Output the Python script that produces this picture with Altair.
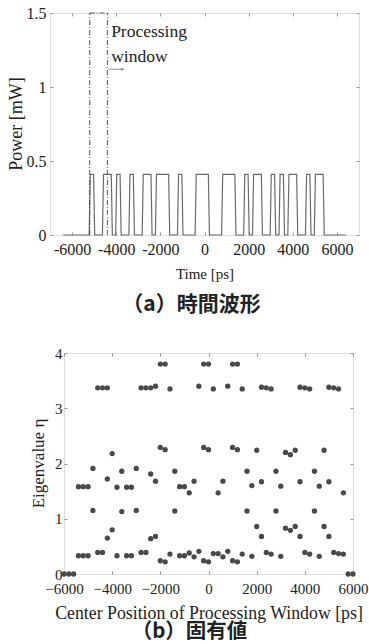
import altair as alt
import pandas as pd

# ---------------- (a) time waveform ----------------
pulse_start = [-5200, -4600, -4000, -3400, -2800, -2200, -1200, -400, 800, 1800, 2200, 3000, 3400, 3800, 4600, 5000]
pulse_end = [-5000, -4200, -3800, -3200, -2400, -1600, -1000, 200, 1400, 2000, 2600, 3200, 3600, 4200, 4800, 5400]
pulse_level = 0.41          # mW
edge_half = 25              # ps, half of rise / fall time
trace_start, trace_end = -6400, 6400

window_edges = [-5200, -4400]
window_top = 1.5
arrow_from, arrow_to, arrow_level = -4360, -3700, 1.12
label_t = -4230
label_lines = ["Processing", "window"]
label_levels = [1.338, 1.168]

time_ticks = [-6000, -4000, -2000, 0, 2000, 4000, 6000]
power_ticks = [0, 0.5, 1, 1.5]

# ---------------- (b) eigenvalues ----------------
window_centers = [-6000, -5800, -5600, -5400, -5200, -5000, -4800, -4600, -4400, -4200,
                  -4000, -3800, -3600, -3400, -3200, -3000, -2800, -2600, -2400, -2200,
                  -2000, -1800, -1600, -1400, -1200, -1000, -800, -600, -400, -200,
                  0, 200, 400, 600, 800, 1000, 1200, 1400, 1600, 1800,
                  2000, 2200, 2400, 2600, 2800, 3000, 3200, 3400, 3600, 3800,
                  4000, 4200, 4400, 4600, 4800, 5000, 5200, 5400, 5600, 5800, 6000]
eigenvalues = [[0], [0], [0], [1.58, 0.33], [1.58, 0.33], [1.58, 0.33], [1.91, 1.15], [3.37, 0.39], [3.37, 0.39], [3.37, 1.72, 0.65],
               [2.18, 0.80], [1.57, 0.33], [1.86, 1.13], [1.57, 0.33], [1.57, 0.33], [1.91, 1.15], [3.37, 0.39], [3.37, 0.39], [3.37, 1.81, 0.64], [3.40, 1.68, 0.68],
               [3.80, 2.29, 0.24], [3.80, 2.25, 0.22], [3.35, 0.36], [1.86, 1.14], [1.58, 0.33], [1.58, 0.33], [1.47, 0.38], [1.68, 0.31], [3.40, 0.41], [3.80, 2.29, 0.24],
               [3.80, 2.25, 0.22], [3.35, 0.37], [1.47, 0.37], [1.68, 0.31], [3.40, 0.41], [3.80, 2.29, 0.24], [3.80, 2.25, 0.22], [3.35, 0.36], [1.86, 1.14], [1.60, 0.32],
               [2.24, 0.86], [3.38, 1.67, 0.68], [3.37, 0.39], [3.35, 0.36], [1.86, 1.14], [1.59, 0.32], [2.20, 0.83], [2.16, 0.79], [2.24, 0.86], [3.38, 1.67, 0.68],
               [3.37, 0.39], [3.35, 0.36], [1.86, 1.14], [1.59, 0.32], [2.24, 0.86], [3.38, 1.67, 0.68], [3.37, 0.39], [3.35, 0.37], [1.47, 0.36], [0], [0]]
center_ticks = [-6000, -4000, -2000, 0, 2000, 4000, 6000]
eta_ticks = [0, 1, 2, 3, 4]

SERIF = "Liberation Serif"
CJK = "Noto Sans CJK JP"
TXT = "#222222"
TICK = "#999999"

# ---- tables ----
t_pts, p_pts = [trace_start], [0.0]
for s, e in zip(pulse_start, pulse_end):
    t_pts += [s - edge_half, s + edge_half, e - edge_half, e + edge_half]
    p_pts += [0.0, pulse_level, pulse_level, 0.0]
t_pts.append(trace_end)
p_pts.append(0.0)
wave = pd.DataFrame({"t": t_pts, "p": p_pts})
win = pd.DataFrame({"t": window_edges, "p0": [0.0] * len(window_edges), "p1": [window_top] * len(window_edges)})
win_top = pd.DataFrame({"t": [window_edges[0]], "t2": [window_edges[1]], "p": [window_top]})
arrow = pd.DataFrame({"t": [arrow_from], "t2": [arrow_to], "p": [arrow_level]})
labels = pd.DataFrame({"t": [label_t] * len(label_lines), "p": label_levels, "s": label_lines})
one = pd.DataFrame({"k": [0]})

eig = pd.DataFrame([(c, v) for c, vals in zip(window_centers, eigenvalues) for v in vals],
                   columns=["c", "eta"])

# ---- (a) chart ----
W_A, H_A = 309, 222
xs_a = alt.Scale(domain=[-7000, 7000], nice=False, zero=False)
ys_a = alt.Scale(domain=[0, 1.5], nice=False)

xa_bottom = alt.Axis(values=time_ticks, title="Time [ps]",
                     labelExpr="datum.value < 0 ? '-' + format(-datum.value, 'd') : format(datum.value, 'd')",
                     tickSize=3, offset=-3, domain=False, grid=False, labelFont=SERIF, labelFontSize=16,
                     titleFont=SERIF, titleFontSize=15, titleFontWeight="normal", labelPadding=6, titlePadding=9,
                     labelFlush=False, labelOverlap=False, labelColor=TXT, titleColor=TXT, tickColor=TICK)
xa_top = alt.Axis(values=time_ticks, labels=False, title=None, orient="top", tickSize=3, offset=-3,
                  domain=False, grid=False, tickColor=TICK)
ya_left = alt.Axis(values=power_ticks, format="~g", title=None, tickSize=3, offset=-3,
                   domain=False, grid=False, labelFont=SERIF, labelFontSize=16, labelPadding=4,
                   labelColor=TXT, tickColor=TICK)
ya_right = alt.Axis(values=power_ticks, labels=False, title=None, orient="right", tickSize=3, offset=-3,
                    domain=False, grid=False, tickColor=TICK)

wave_line = alt.Chart(wave).mark_line(color="#6a6a6a", strokeWidth=1.2).encode(
    x=alt.X("t:Q", scale=xs_a, axis=xa_bottom),
    y=alt.Y("p:Q", scale=ys_a, axis=ya_left),
)
mirror_a = alt.Chart(wave).mark_line(opacity=0).encode(
    x=alt.X("t:Q", scale=xs_a, axis=xa_top),
    y=alt.Y("p:Q", scale=ys_a, axis=ya_right),
)
win_lines = alt.Chart(win).mark_rule(color="#444444", strokeWidth=0.9, strokeDash=[5, 2, 1, 2]).encode(
    x=alt.X("t:Q", scale=xs_a, axis=None),
    y=alt.Y("p0:Q", scale=ys_a, axis=None), y2="p1:Q",
)
win_cap = alt.Chart(win_top).mark_rule(color="#444444", strokeWidth=0.9, strokeDash=[5, 2, 1, 2]).encode(
    x=alt.X("t:Q", scale=xs_a, axis=None), x2="t2:Q", y=alt.Y("p:Q", scale=ys_a, axis=None)
)
arrow_line = alt.Chart(arrow).mark_rule(color="#777777", strokeWidth=0.8).encode(
    x=alt.X("t:Q", scale=xs_a, axis=None), x2="t2:Q", y=alt.Y("p:Q", scale=ys_a, axis=None)
)
arrow_head = alt.Chart(arrow).mark_point(shape="triangle-right", filled=True, size=10, color="#777777", opacity=1).encode(
    x=alt.X("t2:Q", scale=xs_a, axis=None), y=alt.Y("p:Q", scale=ys_a, axis=None)
)
win_text = alt.Chart(labels).mark_text(align="left", baseline="alphabetic", font=SERIF, fontSize=17.5, color=TXT).encode(
    x=alt.X("t:Q", scale=xs_a, axis=None), y=alt.Y("p:Q", scale=ys_a, axis=None), text="s:N"
)
ytitle_a = alt.Chart(one).mark_text(angle=270, align="center", baseline="middle", font=SERIF, fontSize=18,
                                    color=TXT, text="Power [mW]").encode(
    x=alt.value(-33.5), y=alt.value(H_A / 2)
)
spacer_a = alt.Chart(one).mark_rule(color="white", strokeWidth=1).encode(
    x=alt.value(-48.5), x2=alt.value(-47.5), y=alt.value(H_A / 2)
)

top = alt.layer(wave_line, mirror_a, win_lines, win_cap, arrow_line, arrow_head, win_text, ytitle_a, spacer_a).resolve_axis(
    x="independent", y="independent"
).properties(
    width=W_A, height=H_A,
    title=alt.TitleParams("（a）時間波形", orient="bottom", anchor="middle", frame="group", dx=-13, offset=13,
                          font=CJK, fontSize=21, fontWeight="bold", color=TXT),
)

# ---- (b) chart ----
W_B, H_B = 289, 221
xs_b = alt.Scale(domain=[-6000, 6000], nice=False, zero=False)
ys_b = alt.Scale(domain=[0, 4], nice=False)

xb_bottom = alt.Axis(values=center_ticks, format="d", title="Center Position of Processing Window [ps]",
                     tickSize=3, offset=-3, domain=False, grid=False, labelFont=SERIF, labelFontSize=15,
                     titleFont=SERIF, titleFontSize=17.8, titleFontWeight="normal", labelPadding=7, titlePadding=8,
                     labelFlush=False, labelOverlap=False, labelColor=TXT, titleColor=TXT, tickColor=TICK)
xb_top = alt.Axis(values=center_ticks, labels=False, title=None, orient="top", tickSize=3, offset=-3,
                  domain=False, grid=False, tickColor=TICK)
yb_left = alt.Axis(values=eta_ticks, format="d", title=None, tickSize=3, offset=-3,
                   domain=False, grid=False, labelFont=SERIF, labelFontSize=15, labelPadding=2,
                   labelColor=TXT, tickColor=TICK)
yb_right = alt.Axis(values=eta_ticks, labels=False, title=None, orient="right", tickSize=3, offset=-3,
                    domain=False, grid=False, tickColor=TICK)

dots = alt.Chart(eig).mark_circle(size=28, color="#4a4a4a", opacity=1).encode(
    x=alt.X("c:Q", scale=xs_b, axis=xb_bottom),
    y=alt.Y("eta:Q", scale=ys_b, axis=yb_left),
)
mirror_b = alt.Chart(eig).mark_point(opacity=0).encode(
    x=alt.X("c:Q", scale=xs_b, axis=xb_top),
    y=alt.Y("eta:Q", scale=ys_b, axis=yb_right),
)
ytitle_b = alt.Chart(one).mark_text(angle=270, align="center", baseline="middle", font=SERIF, fontSize=17,
                                    color=TXT, text="Eigenvalue η").encode(
    x=alt.value(-24.8), y=alt.value(H_B / 2)
)

bottom = alt.layer(dots, mirror_b, ytitle_b).resolve_axis(x="independent", y="independent").properties(
    width=W_B, height=H_B,
    title=alt.TitleParams("（b）固有値", orient="bottom", anchor="middle", frame="group", dx=-19, offset=0,
                          font=CJK, fontSize=20.5, fontWeight="bold", color=TXT),
)

# an empty, invisible cell that shifts panel (b) to the right of panel (a)'s plot origin
shift_cell = alt.Chart(one).mark_point(opacity=0).encode(x=alt.value(0), y=alt.value(0)).properties(
    width=13.8, height=20, view=alt.ViewBackground(stroke="transparent")
)
bottom_row = alt.HConcatChart(hconcat=[shift_cell, bottom], spacing=0, bounds="flush")

chart = alt.VConcatChart(vconcat=[top, bottom_row], spacing=29,
                         padding={"left": 0, "top": 4, "right": 0, "bottom": 0}).configure_view(
    stroke="#a0a0a0", strokeWidth=1
).configure(background="white")

chart.save("out.html", embed_options={"renderer": "svg", "actions": False})
